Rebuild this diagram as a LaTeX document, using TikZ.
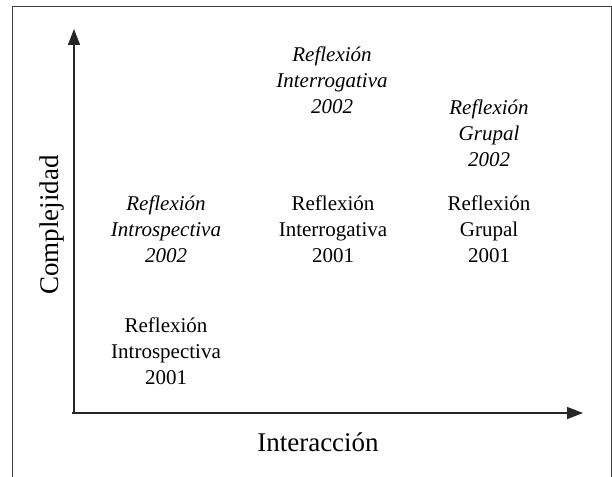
\documentclass[tikz,border=0pt]{standalone}
\usepackage{fontspec}
\setmainfont{Liberation Serif}
\usetikzlibrary{arrows.meta}
\tikzset{
  lbl/.style={align=center, inner sep=0pt, font=\fontsize{21}{26}\selectfont},
  lbli/.style={lbl, font=\fontsize{21}{26}\selectfont\itshape},
  axlbl/.style={inner sep=0pt, font=\fontsize{27}{32}\selectfont},
  axis/.style={line width=1.3pt, color=black!85, -{Triangle[length=16pt,width=12pt]}},
  frame/.style={line width=1pt, color=black!75}
}
\begin{document}
\begin{tikzpicture}[x=1pt,y=-1pt]
\useasboundingbox (0,0) rectangle (612,476);
\fill[white] (0,0) rectangle (612,476);
\draw[frame] (12,480) -- (12,7) -- (611,7) -- (611,480);
\coordinate (o) at (74,413);
\coordinate (ytip) at (74,29);
\coordinate (xtip) at (583,413);
\coordinate (xstart) at (72,413);
\draw[axis] (o) -- (ytip);
\draw[axis] (xstart) -- (xtip);
\node[axlbl] (xl) at (318,442) {Interacción};
\node[axlbl, rotate=90] (yl) at (52,225) {Complejidad};
\node[lbl] (i1) at (166,351) {Reflexión\\Introspectiva\\2001};
\node[lbli] (i2) at (166,229) {Reflexión\\Introspectiva\\2002};
\node[lbl] (r1) at (333,229) {Reflexión\\Interrogativa\\2001};
\node[lbli] (r2) at (332,80) {Reflexión\\Interrogativa\\2002};
\node[lbl] (g1) at (489,229) {Reflexión\\Grupal\\2001};
\node[lbli] (g2) at (489,133) {Reflexión\\Grupal\\2002};
\end{tikzpicture}
\end{document}
